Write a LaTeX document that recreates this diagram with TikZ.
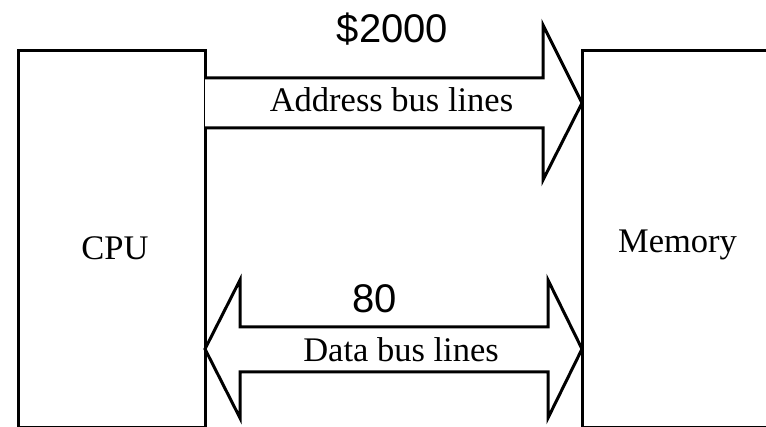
\documentclass[tikz,border=0pt]{standalone}
\usepackage{fontspec}
\setmainfont{Liberation Serif}
\newfontfamily\arialf{Liberation Sans}
\begin{document}
\begin{tikzpicture}[x=1pt,y=-1pt,
  box/.style={draw=black,line width=3pt,fill=white},
  bus/.style={draw=black,line width=3pt,line join=miter,fill=white},
  serlab/.style={font=\fontsize{34.5}{40}\selectfont,anchor=base,inner sep=0pt},
  numlab/.style={font=\arialf\fontsize{40}{46}\selectfont,anchor=base,inner sep=0pt}]
\useasboundingbox (0,0) rectangle (766,427);
\clip (0,0) rectangle (766,427);
\fill[white] (0,0) rectangle (766,427);
% boxes
\draw[box] (18.5,51) rectangle (205,427.5);
\coordinate (cpuR) at (205,103);
\draw[box] (582,51) rectangle (790,427.5);
\coordinate (memL) at (582,103);
% address bus arrow
\draw[bus] (205,78) -- (543,78) -- (543,25) -- (582,103) -- (543,180) -- (543,128) -- (205,128);
% data bus arrow
\draw[bus] (205,349) -- (240,280) -- (240,327) -- (548,327) -- (548,280) -- (582,349)
  -- (548,418) -- (548,372) -- (240,372) -- (240,418) -- cycle;
% labels
\node[serlab] (cpu) at (115,260) {CPU};
\node[serlab] (mem) at (677.5,253) {Memory};
\node[serlab] (addr) at (391.5,112) {Address bus lines};
\node[serlab] (data) at (401,362) {Data bus lines};
\node[numlab] (addrval) at (392.5,43) {\$2000};
\node[numlab] (dataval) at (374.5,313) {80};
\end{tikzpicture}
\end{document}
